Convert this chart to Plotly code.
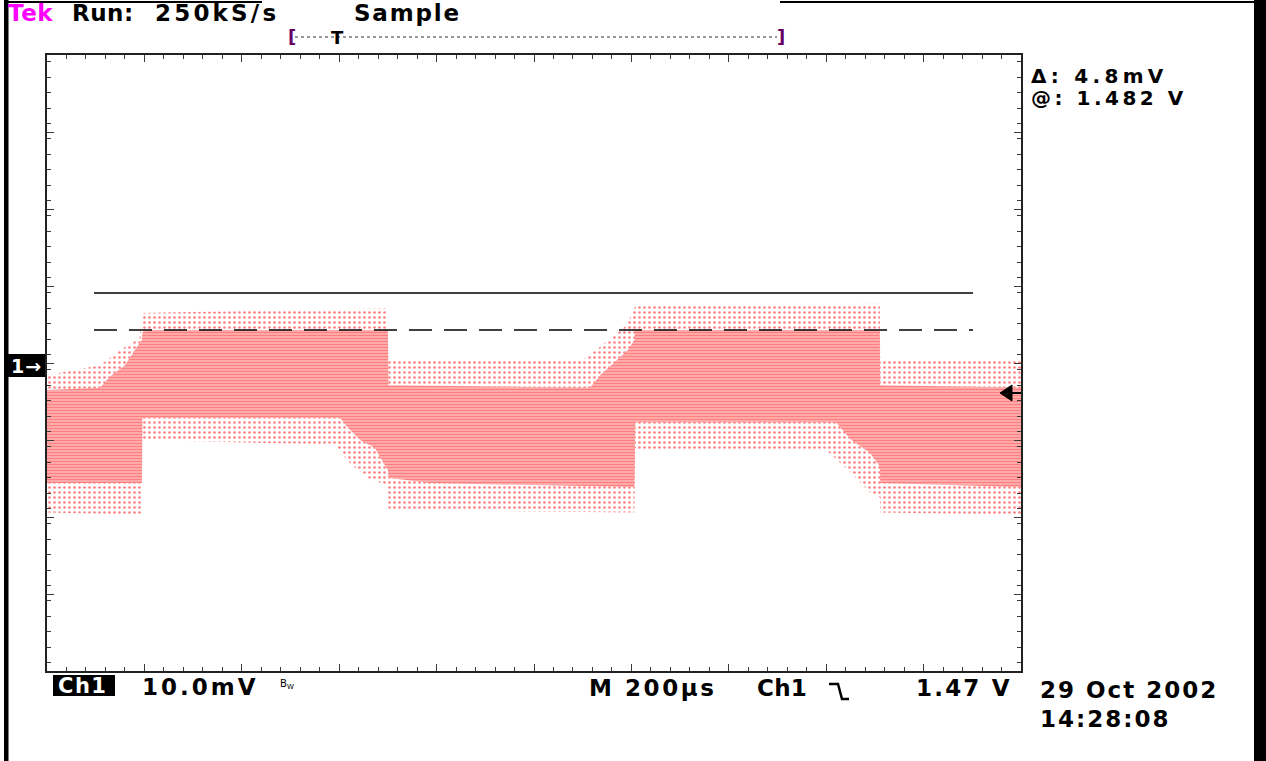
import plotly.graph_objects as go

# ---------------- data (read from the screen capture) ----------------
# time in microseconds (200 us/div, 10 div), voltage in volts (10 mV/div)
band_top_t = [0, 109, 129, 160, 187, 195, 196, 212, 700, 701, 715, 1115, 1136, 1166, 1193, 1206, 1208, 1710, 1711, 2000]
band_top_v = [1.4694, 1.4697, 1.4711, 1.4726, 1.4752, 1.4759, 1.4769, 1.4772, 1.4772, 1.4700, 1.4700, 1.4697,
              1.4713, 1.4730, 1.4746, 1.4759, 1.4772, 1.4772, 1.4700, 1.4697]
band_bot_t = [0, 195, 196, 602, 618, 643, 673, 690, 700, 701, 786, 1206, 1208, 1620, 1650, 1690, 1710, 1711, 2000]
band_bot_v = [1.4573, 1.4573, 1.4658, 1.4658, 1.4645, 1.4629, 1.4619, 1.4600, 1.4590, 1.4580, 1.4573, 1.4568,
              1.4652, 1.4652, 1.4630, 1.4612, 1.4595, 1.4573, 1.4568]

noise_top_t = [0, 109, 150, 190, 196, 700, 701, 1100, 1140, 1190, 1208, 1710, 1711, 2000]
noise_top_v = [1.4713, 1.4726, 1.4746, 1.4761, 1.4794, 1.4800, 1.4733, 1.4733, 1.4752, 1.4778, 1.4803, 1.4806,
               1.4733, 1.4733]
noise_bot_t = [0, 195, 196, 590, 625, 665, 700, 701, 1206, 1208, 1600, 1645, 1690, 1710, 1711, 2000]
noise_bot_v = [1.4535, 1.4532, 1.4629, 1.4623, 1.4597, 1.4577, 1.4571, 1.4538, 1.4535, 1.4616, 1.4616, 1.4590,
               1.4561, 1.4555, 1.4535, 1.4532]

cursor_levels = [1.482, 1.4772]      # solid, dashed  (delta 4.8 mV, @ 1.482 V)
trigger_level = 1.469
screen_center = 1.4729
volts_per_div = 0.010
us_per_div = 200
n_xdiv, n_ydiv = 10, 8

header_texts = ["Tek", "Run:", "250kS/s", "Sample"]
readouts = ["\u0394: 4.8mV", "@: 1.482 V"]
footer_texts = ["Ch1", "10.0mV", "M", "200\u00b5s", "Ch1", "1.47 V", "29 Oct 2002", "14:28:08"]

# ---------------- layout geometry ----------------
FW, FH = 1266, 761
L, R, T, B = 47, 1021, 55, 671
PW, PH = R - L, B - T


def px(xp):
    return (xp - L) / PW


def py(yp):
    return (B - yp) / PH


RED = "#ff0000"
FONT = "DejaVu Sans"

fig = go.Figure()

# noise halo
fig.add_trace(go.Scatter(
    x=noise_top_t + noise_bot_t[::-1], y=noise_top_v + noise_bot_v[::-1],
    mode="lines", fill="toself", line=dict(width=0), fillcolor="rgba(0,0,0,0)",
    fillpattern=dict(shape=".", fgcolor=RED, bgcolor="rgba(255,255,255,0)", size=5, solidity=0.22),
    hoverinfo="skip", showlegend=False))
# dense striped band
fig.add_trace(go.Scatter(
    x=band_top_t + band_bot_t[::-1], y=band_top_v + band_bot_v[::-1],
    mode="lines", fill="toself", line=dict(width=0), fillcolor="rgba(0,0,0,0)",
    fillpattern=dict(shape="-", fgcolor=RED, bgcolor="white", size=3, solidity=0.78),
    hoverinfo="skip", showlegend=False))

shapes = []
# cursors
shapes.append(dict(type="line", xref="paper", yref="y", x0=px(94), x1=px(973), y0=cursor_levels[0],
                   y1=cursor_levels[0], line=dict(color="black", width=1.5)))
shapes.append(dict(type="line", xref="paper", yref="y", x0=px(94), x1=px(973), y0=cursor_levels[1],
                   y1=cursor_levels[1], line=dict(color="black", width=1.5, dash="23px,12px")))
# trigger level arrow on right edge
d = 8 / PH * n_ydiv * volts_per_div
shapes.append(dict(type="path", xref="paper", yref="y",
                   path=f"M {px(1000)},{trigger_level} L {px(1012)},{trigger_level + d} "
                        f"L {px(1012)},{trigger_level - d} Z",
                   fillcolor="black", line=dict(color="black", width=1)))
shapes.append(dict(type="line", xref="paper", yref="y", x0=px(1010), x1=px(1021), y0=trigger_level,
                   y1=trigger_level, line=dict(color="black", width=2)))
# outer screen frame
shapes.append(dict(type="rect", xref="paper", yref="paper", x0=px(4), x1=px(8.5), y0=py(0), y1=py(761),
                   fillcolor="black", line=dict(width=0)))
shapes.append(dict(type="rect", xref="paper", yref="paper", x0=px(1254), x1=px(1266), y0=py(0), y1=py(761),
                   fillcolor="black", line=dict(width=0)))
shapes.append(dict(type="line", xref="paper", yref="paper", x0=px(4), x1=px(262), y0=py(2), y1=py(2),
                   line=dict(color="black", width=2)))
shapes.append(dict(type="line", xref="paper", yref="paper", x0=px(780), x1=px(1256), y0=py(2), y1=py(2),
                   line=dict(color="black", width=2)))
# trigger position bar at top
shapes.append(dict(type="line", xref="paper", yref="paper", x0=px(295), x1=px(777), y0=py(37), y1=py(37),
                   line=dict(color="#333", width=1, dash="dot")))
# channel marker box and Ch1 box
shapes.append(dict(type="rect", xref="paper", yref="paper", x0=px(8), x1=px(45), y0=py(377), y1=py(354),
                   fillcolor="black", line=dict(width=0)))
shapes.append(dict(type="rect", xref="paper", yref="paper", x0=px(53), x1=px(115), y0=py(696), y1=py(675),
                   fillcolor="black", line=dict(width=0)))
# falling-edge trigger symbol
shapes.append(dict(type="path", xref="paper", yref="paper",
                   path=f"M {px(829)},{py(684)} L {px(838)},{py(684)} L {px(842)},{py(699)} L {px(849)},{py(699)}",
                   line=dict(color="black", width=2.5)))


def ann(text, x0, yc, size=23, color="black", spacing=0.0, bold=True, anchor="left"):
    return dict(text=f'<span style="letter-spacing:{spacing}px">{text}</span>', xref="paper", yref="paper",
                x=px(x0), y=py(yc), xanchor=anchor, yanchor="middle", showarrow=False,
                font=dict(family=FONT, size=size, color=color, weight="bold" if bold else "normal"))


annotations = [
    ann(header_texts[0], 6, 13, color="#ff00ff", spacing=0.5),
    ann(header_texts[1], 70, 13, spacing=0.5),
    ann(header_texts[2], 153, 13, spacing=3.2),
    ann(header_texts[3], 352, 13, spacing=1.8),
    ann("[", 286, 37, size=18, color="#660066"),
    ann("]", 775, 37, size=18, color="#660066"),
    ann("T", 337, 38, size=18, anchor="center"),
    ann(readouts[0], 1029, 76, size=20, spacing=4.3),
    ann(readouts[1], 1029, 98, size=20, spacing=3.5),
    ann("1\u2192", 9, 366, size=19, color="white", spacing=1.0),
    ann(footer_texts[0], 56, 686, size=21, color="white", spacing=1.5),
    ann(footer_texts[1], 140, 687, spacing=3.0),
    ann("B<sub>W</sub>", 278, 684, size=10, bold=False),
    ann(footer_texts[2], 587, 688, spacing=0),
    ann(footer_texts[3], 623, 688, spacing=2.6),
    ann(footer_texts[4], 755, 688, spacing=0.3),
    ann(footer_texts[5], 914, 688, spacing=2.2),
    ann(footer_texts[6], 1038, 690, spacing=2.0),
    ann(footer_texts[7], 1038, 719, spacing=2.0),
]

tick_col = "#3a3a3a"
fig.update_layout(
    width=FW, height=FH,
    margin=dict(l=L, r=FW - R, t=T, b=FH - B, pad=0),
    paper_bgcolor="white", plot_bgcolor="white",
    showlegend=False,
    shapes=shapes, annotations=annotations,
    xaxis=dict(range=[0, n_xdiv * us_per_div], tick0=0, dtick=us_per_div, ticks="inside", ticklen=7,
               tickwidth=1, tickcolor=tick_col, showticklabels=False, showgrid=False, zeroline=False,
               showline=True, linecolor="#222", linewidth=2, mirror="ticks",
               minor=dict(ticks="inside", dtick=us_per_div / 5, ticklen=4, tickwidth=1, tickcolor=tick_col,
                          showgrid=False)),
    yaxis=dict(range=[screen_center - n_ydiv / 2 * volts_per_div, screen_center + n_ydiv / 2 * volts_per_div],
               tick0=screen_center, dtick=volts_per_div, ticks="inside", ticklen=7, tickwidth=1,
               tickcolor=tick_col, showticklabels=False, showgrid=False, zeroline=False,
               showline=True, linecolor="#222", linewidth=2, mirror="ticks",
               minor=dict(ticks="inside", dtick=volts_per_div / 5, ticklen=4, tickwidth=1, tickcolor=tick_col,
                          showgrid=False)),
)

fig.write_html("out.html", config={"displayModeBar": False},
               post_script="document.body.style.margin='0';document.body.style.overflow='hidden';")
